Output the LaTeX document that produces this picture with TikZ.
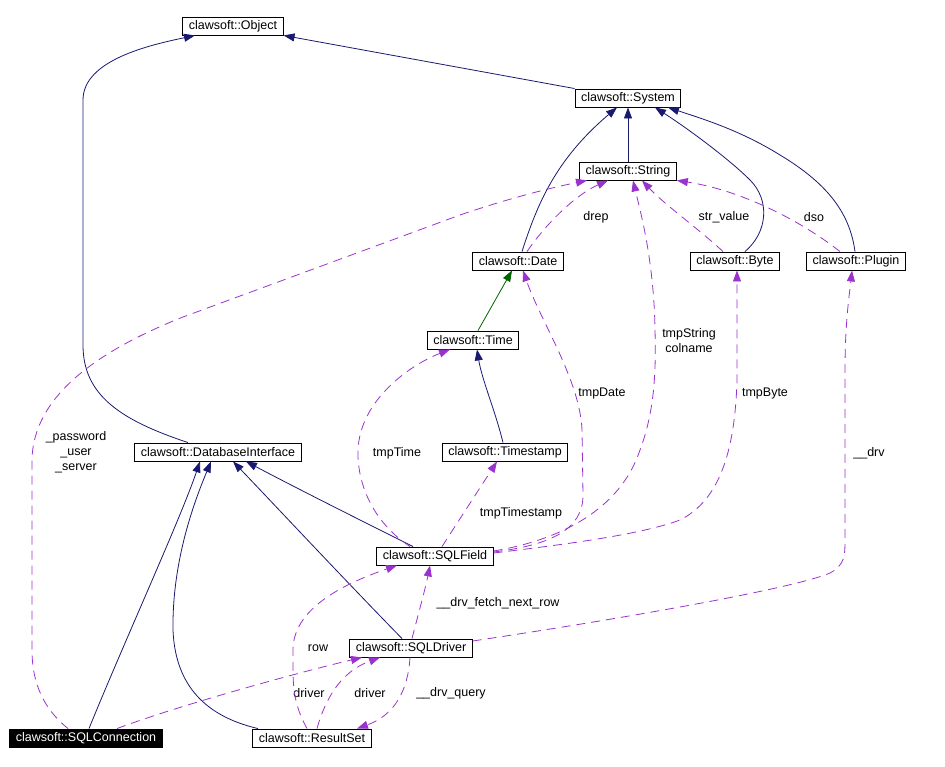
\documentclass[tikz,border=0pt]{standalone}
\usepackage{fontspec}
\setmainfont{Liberation Sans}
\usetikzlibrary{arrows.meta}
\definecolor{inheritblue}{RGB}{25,25,112}
\definecolor{usepurple}{RGB}{154,50,205}
\definecolor{tmplgreen}{RGB}{0,100,0}

\begin{document}
\begin{tikzpicture}[
    x=1pt, y=-1pt,
    font=\fontsize{12.5}{15}\selectfont,
    cls/.style={draw, line width=0.9pt, inner xsep=6pt, inner ysep=0pt, minimum height=18pt, fill=white},
    focus/.style={cls, fill=black, text=white},
    inherit/.style={inheritblue, line width=0.8pt, -{Triangle[length=11pt,width=8pt]}},
    templ/.style={inherit, tmplgreen},
    usage/.style={usepurple, line width=0.8pt, dash pattern=on 9pt off 6pt, -{Triangle[length=11pt,width=8pt]}},
    lbl/.style={align=center, inner sep=0pt}
  ]
    \useasboundingbox (0,0) rectangle (945,766);

    \node[cls] (object) at (233,26) {clawsoft::Object};
    \node[cls] (system) at (628,98) {clawsoft::System};
    \node[cls] (string) at (628,171) {clawsoft::String};
    \node[cls] (date) at (518,261) {clawsoft::Date};
    \node[cls] (byte) at (735,261) {clawsoft::Byte};
    \node[cls] (plugin) at (856,261) {clawsoft::Plugin};
    \node[cls] (time) at (473,340) {clawsoft::Time};
    \node[cls] (dbi) at (218,452) {clawsoft::DatabaseInterface};
    \node[cls] (timestamp) at (505,452) {clawsoft::Timestamp};
    \node[cls] (sqlfield) at (435,556) {clawsoft::SQLField};
    \node[cls] (sqldriver) at (411,648) {clawsoft::SQLDriver};
    \node[focus] (sqlconnection) at (86,738) {clawsoft::SQLConnection};
    \node[cls] (resultset) at (312,738) {clawsoft::ResultSet};

    \node[lbl] (lblconn) at (76,452) {\_password\\\_user\\\_server};
    \node[lbl] (lbldrep) at (596,217) {drep};
    \node[lbl] (lblstrvalue) at (724,217) {str\_value};
    \node[lbl] (lbldso) at (814,217) {dso};
    \node[lbl] (lbltmpstring) at (689,341) {tmpString\\colname};
    \node[lbl] (lbltmpdate) at (602,393) {tmpDate};
    \node[lbl] (lbltmpbyte) at (765,393) {tmpByte};
    \node[lbl] (lbldrv) at (869,453) {\_\_drv};
    \node[lbl] (lbltmptime) at (397,453) {tmpTime};
    \node[lbl] (lbltmpstamp) at (521,513) {tmpTimestamp};
    \node[lbl] (lblfetch) at (498,603) {\_\_drv\_fetch\_next\_row};
    \node[lbl] (lblrow) at (318,648) {row};
    \node[lbl] (lbldriverl) at (309,693) {driver};
    \node[lbl] (lbldriverr) at (370,693) {driver};
    \node[lbl] (lblquery) at (451,693) {\_\_drv\_query};

    \draw[inherit] ([xshift=-30]dbi.north) .. controls (120,420) and (83,395) .. (83,345)
      -- (83,100) .. controls (83,60) and (150,45) .. ([xshift=-38]object.south);
    \draw[inherit] (system.north west) -- (object.south east);
    \draw[inherit] (string.north) -- (system.south);
    \draw[inherit] ([xshift=4]date.north) .. controls (537,205) and (555,160) .. ([xshift=-11]system.south);
    \draw[inherit] ([xshift=10]byte.north) .. controls (768,232) and (770,200) .. (750,180)
      .. controls (730,160) and (690,130) .. ([xshift=27]system.south);
    \draw[inherit] ([xshift=-1]plugin.north) .. controls (850,215) and (830,185) .. (780,155)
      .. controls (740,130) and (700,118) .. ([xshift=40]system.south);
    \draw[templ] ([xshift=5]time.north) -- ([xshift=-6]date.south);
    \draw[inherit] ([xshift=-2]timestamp.north) .. controls (495,410) and (482,380) .. ([xshift=4]time.south);
    \draw[inherit] ([xshift=-22]sqlfield.north) .. controls (370,525) and (300,490) .. ([xshift=28]dbi.south);
    \draw[inherit] ([xshift=-9]sqldriver.north) .. controls (340,575) and (270,500) .. ([xshift=15]dbi.south);
    \draw[inherit] ([xshift=3]sqlconnection.north) .. controls (125,640) and (180,520) .. ([xshift=-18]dbi.south);
    \draw[inherit] ([xshift=-54]resultset.north) .. controls (200,715) and (175,680) .. (173,630)
      .. controls (172,560) and (195,500) .. ([xshift=-7]dbi.south);

    \draw[usage] ([xshift=-18]sqlconnection.north) .. controls (45,710) and (32,685) .. (32,650)
      -- (32,460) .. controls (33,395) and (100,350) .. (183,317) -- (460,215)
      .. controls (510,198) and (550,188) .. ([xshift=-41]string.south);
    \draw[usage] ([xshift=9]date.north) .. controls (545,225) and (575,195) .. ([xshift=-20]string.south);
    \draw[usage] ([yshift=5]sqlfield.east) .. controls (560,540) and (620,510) .. (640,450)
      .. controls (655,410) and (656,370) .. (655,330)
      .. controls (654,260) and (640,210) .. ([xshift=5]string.south);
    \draw[usage] ([xshift=-12]byte.north) .. controls (700,230) and (665,205) .. ([xshift=14]string.south);
    \draw[usage] ([xshift=-16]plugin.north) .. controls (800,220) and (740,190) .. (string.south east);
    \draw[usage] ([yshift=4]sqlfield.east) .. controls (550,545) and (583,530) .. (583,495)
      -- (582,430) .. controls (580,380) and (540,320) .. ([xshift=5]date.south);
    \draw[usage] ([xshift=-25]sqlfield.north) .. controls (370,520) and (357,480) .. (358,450)
      .. controls (360,400) and (410,365) .. ([xshift=-23]time.south);
    \draw[usage] ([xshift=7]sqlfield.north) -- ([xshift=-8]timestamp.south);
    \draw[usage] ([yshift=3]sqlfield.east) .. controls (560,545) and (640,535) .. (680,520)
      .. controls (720,500) and (735,450) .. (737,380) -- ([xshift=2]byte.south);
    \draw[usage] ([yshift=7]sqldriver.east) .. controls (600,622) and (790,590) .. (830,573)
      .. controls (845,565) and (845,555) .. (845,540) -- (845,370)
      .. controls (845,320) and (850,290) .. ([xshift=-4]plugin.south);
    \draw[usage] ([xshift=1]sqldriver.north) .. controls (418,615) and (425,590) .. ([xshift=-5]sqlfield.south);
    \draw[usage] ([xshift=-5]resultset.north) .. controls (297,710) and (293,695) .. (293,670)
      -- (293,650) .. controls (293,610) and (340,585) .. ([xshift=-38]sqlfield.south);
    \draw[usage] ([xshift=31]sqlconnection.north) .. controls (180,705) and (300,672) .. ([xshift=-49]sqldriver.south);
    \draw[usage] ([xshift=5]resultset.north) .. controls (325,700) and (340,672) .. ([xshift=-31]sqldriver.south);
    \draw[usage] ([xshift=-1]sqldriver.south) .. controls (408,690) and (395,715) .. ([xshift=45]resultset.north);
  \end{tikzpicture}
\end{document}
